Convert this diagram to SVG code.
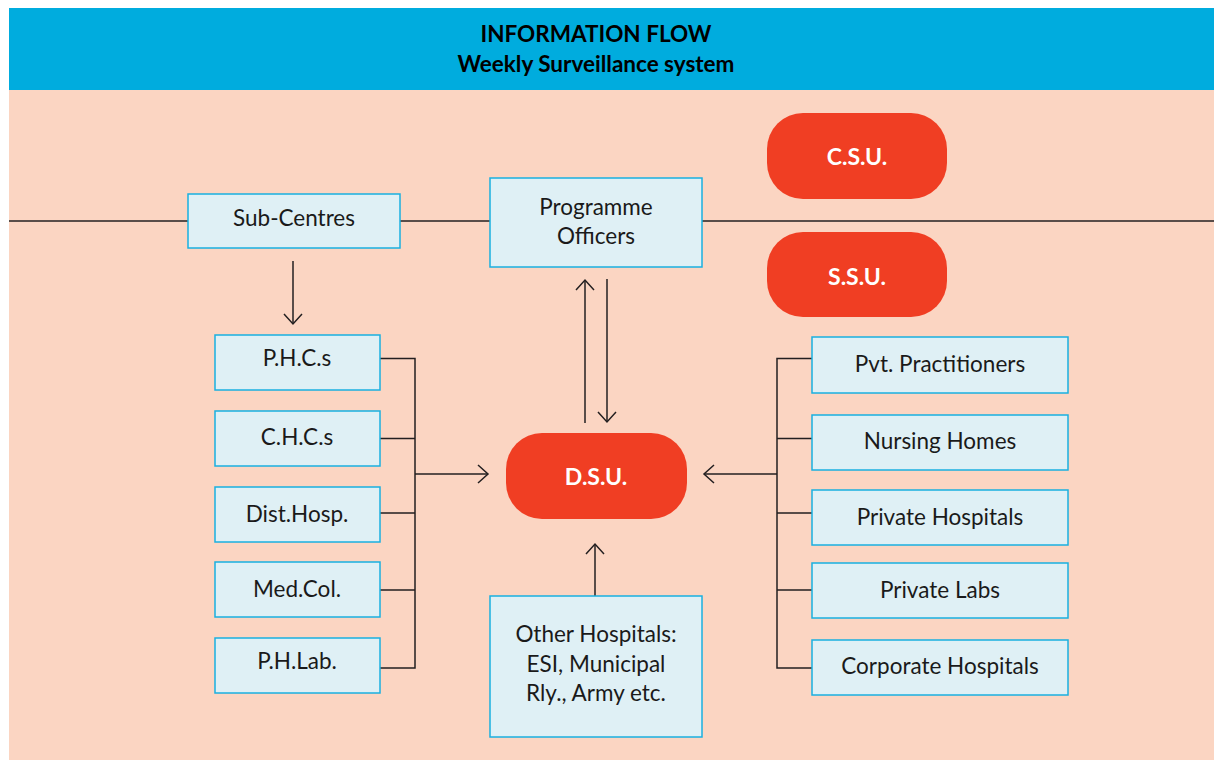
<svg xmlns="http://www.w3.org/2000/svg" width="1214" height="760" viewBox="0 0 1214 760">
<style>
.box{fill:#DFF0F5;stroke:#1AB0E0;stroke-width:1.5}
.pill{fill:#F03E23}
.t{font-family:Lato,"Open Sans","Liberation Sans",sans-serif;font-size:22.5px;fill:#1a1a1a;text-anchor:middle}
.w{font-family:Lato,"Open Sans","Liberation Sans",sans-serif;font-size:23px;font-weight:bold;fill:#ffffff;text-anchor:middle}
.h{font-family:Lato,"Open Sans","Liberation Sans",sans-serif;font-size:22.5px;font-weight:bold;fill:#000;text-anchor:middle}
.ln{fill:none;stroke:#231F20;stroke-width:1.5}
</style>
<defs>
<marker id="ah" markerUnits="userSpaceOnUse" markerWidth="24" markerHeight="24" refX="12" refY="12" orient="auto" viewBox="0 0 24 24">
<path d="M2,3 L12,12 L2,21" fill="none" stroke="#231F20" stroke-width="1.5"/>
</marker>
</defs>
<rect x="0" y="0" width="1214" height="760" fill="#ffffff"/>
<rect x="9" y="90" width="1205" height="670" fill="#FBD5C2"/>
<g id="header">
<rect x="9" y="8" width="1205" height="82" fill="#00ACDE"/>
<text class="h" x="596" y="42">INFORMATION FLOW</text>
<text class="h" x="596" y="72">Weekly Surveillance system</text>
</g>
<g id="connectors">
<line class="ln" x1="9" y1="221" x2="1214" y2="221"/>
<line class="ln" x1="293" y1="261" x2="293" y2="324" marker-end="url(#ah)"/>
<line class="ln" x1="585" y1="423" x2="585" y2="280" marker-end="url(#ah)"/>
<line class="ln" x1="607" y1="279" x2="607" y2="422" marker-end="url(#ah)"/>
<path class="ln" d="M380,358.5 H415 V668 H380 M380,438.5 H415 M380,513 H415 M380,590 H415"/>
<line class="ln" x1="415" y1="474" x2="488" y2="474" marker-end="url(#ah)"/>
<path class="ln" d="M812,358.5 H777 V668 H812 M812,438.5 H777 M812,513 H777 M812,590 H777"/>
<line class="ln" x1="777" y1="474" x2="704" y2="474" marker-end="url(#ah)"/>
<line class="ln" x1="595" y1="596" x2="595" y2="544" marker-end="url(#ah)"/>
</g>
<g id="sub-centres"><rect class="box" x="188" y="194" width="212" height="54"/><text class="t" x="294" y="226">Sub-Centres</text></g>
<g id="programme-officers"><rect class="box" x="490" y="178" width="212" height="89"/><text class="t" x="596" y="215">Programme</text><text class="t" x="596" y="244">Officers</text></g>
<g id="csu"><rect class="pill" x="767" y="113" width="180" height="86" rx="36"/><text class="w" x="857" y="165">C.S.U.</text></g>
<g id="ssu"><rect class="pill" x="767" y="232" width="180" height="85" rx="36"/><text class="w" x="857" y="285">S.S.U.</text></g>
<g id="dsu"><rect class="pill" x="506" y="433" width="181" height="86" rx="36"/><text class="w" x="596" y="485">D.S.U.</text></g>
<g id="phcs"><rect class="box" x="215" y="335" width="165" height="55"/><text class="t" x="297" y="366">P.H.C.s</text></g>
<g id="chcs"><rect class="box" x="215" y="411" width="165" height="55"/><text class="t" x="297" y="445">C.H.C.s</text></g>
<g id="disthosp"><rect class="box" x="215" y="487" width="165" height="55"/><text class="t" x="297" y="522">Dist.Hosp.</text></g>
<g id="medcol"><rect class="box" x="215" y="562" width="165" height="55"/><text class="t" x="297" y="597">Med.Col.</text></g>
<g id="phlab"><rect class="box" x="215" y="638" width="165" height="55"/><text class="t" x="297" y="669">P.H.Lab.</text></g>
<g id="pvt"><rect class="box" x="812" y="337" width="256" height="56"/><text class="t" x="940" y="372">Pvt. Practitioners</text></g>
<g id="nursing"><rect class="box" x="812" y="415" width="256" height="55"/><text class="t" x="940" y="449">Nursing Homes</text></g>
<g id="privhosp"><rect class="box" x="812" y="490" width="256" height="55"/><text class="t" x="940" y="525">Private Hospitals</text></g>
<g id="privlabs"><rect class="box" x="812" y="563" width="256" height="55"/><text class="t" x="940" y="598">Private Labs</text></g>
<g id="corporate"><rect class="box" x="812" y="640" width="256" height="55"/><text class="t" x="940" y="674">Corporate Hospitals</text></g>
<g id="other"><rect class="box" x="490" y="596" width="212" height="141"/><text class="t" x="596" y="642">Other Hospitals:</text><text class="t" x="596" y="672">ESI, Municipal</text><text class="t" x="596" y="701">Rly., Army etc.</text></g>
</svg>
